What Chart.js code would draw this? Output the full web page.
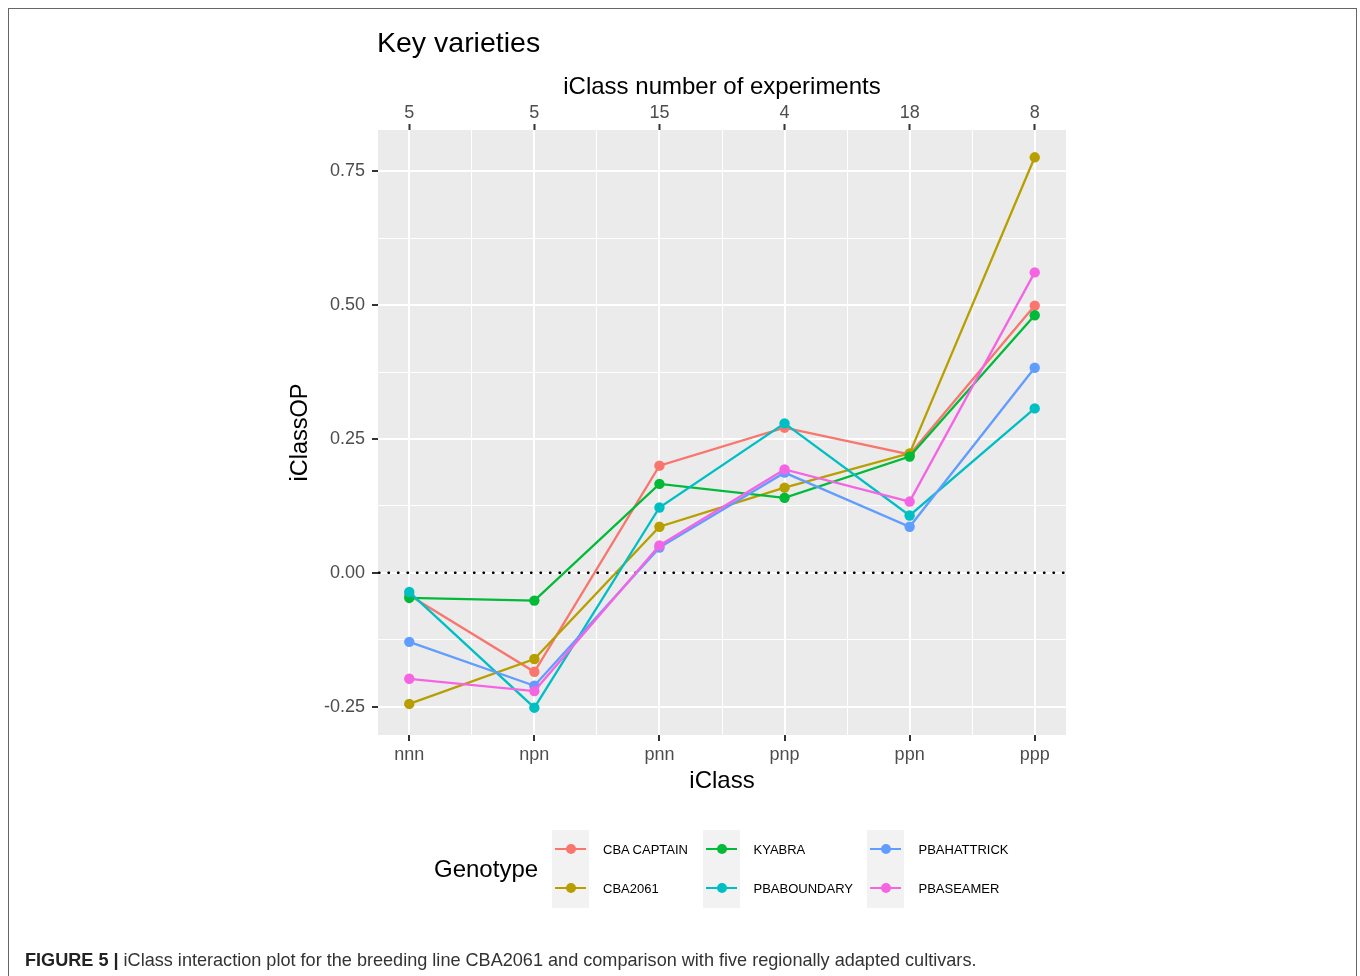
<!DOCTYPE html>
<html>
<head>
<meta charset="utf-8">
<script src="https://cdn.jsdelivr.net/npm/chart.js@4.4.1/dist/chart.umd.min.js"></script>
<style>
    body { margin: 0; background: #fff; font-family: 'Liberation Sans', Arial, sans-serif; }
    #wrap { position: relative; width: 1360px; height: 976px; overflow: hidden; }
    #frame { position: absolute; left: 8px; top: 8px; width: 1347px; height: 1000px; border: 1px solid #666; }
    #myChart { position: absolute; left: 0; top: 0; }
    #title { position: absolute; left: 377px; top: 27px; font-size: 28.5px; line-height: 30px; color: #000; }
    #legend { position: absolute; left: 434px; top: 830px; display: flex; align-items: center; }
    #legend .lgTitle { font-size: 24px; color: #000; width: 118px; }
    #legend .col { display: flex; margin-right: 14.5px; }
    #legend .keys { width: 37px; background: #F2F2F2; }
    #legend .key { position: relative; width: 37px; height: 39px; }
    #legend .key .ln { position: absolute; left: 3px; width: 31px; top: 18px; height: 2px; }
    #legend .key .dot { position: absolute; left: 14px; top: 14px; width: 10px; height: 10px; border-radius: 50%; }
    #legend .labels { margin-left: 14px; }
    #legend .lab { height: 39px; line-height: 39px; font-size: 13px; color: #000; white-space: nowrap; }
    #caption { position: absolute; left: 25px; top: 949px; font-size: 18.1px; line-height: 22px; color: #333; white-space: nowrap; }
    #caption b { color: #222; }
</style>
</head>
<body>
<div id="wrap">
    <div id="frame"></div>
    <canvas id="myChart" width="1360" height="976"></canvas>
    <div id="title">Key varieties</div>
    <div id="legend"></div>
    <div id="caption"><b>FIGURE 5 |</b> iClass interaction plot for the breeding line CBA2061 and comparison with five regionally adapted cultivars.</div>
</div>
<script>
const categories = ['nnn', 'npn', 'pnn', 'pnp', 'ppn', 'ppp'];
const experiments = [5, 5, 15, 4, 18, 8];
const yTicks = [-0.25, 0, 0.25, 0.5, 0.75];

const genotypes = ['CBA CAPTAIN', 'CBA2061', 'KYABRA', 'PBABOUNDARY', 'PBAHATTRICK', 'PBASEAMER'];
const colors = ['#F8766D', '#B79F00', '#00BA38', '#00BFC4', '#619CFF', '#F564E3'];

const cbaCaptain  = [-0.042, -0.185, 0.200, 0.271, 0.221, 0.499];
const cba2061     = [-0.245, -0.161, 0.086, 0.159, 0.223, 0.776];
const kyabra      = [-0.047, -0.052, 0.166, 0.140, 0.217, 0.481];
const pbaBoundary = [-0.036, -0.252, 0.122, 0.279, 0.107, 0.307];
const pbaHattrick = [-0.129, -0.211, 0.047, 0.187, 0.086, 0.383];
const pbaSeamer   = [-0.198, -0.221, 0.051, 0.193, 0.133, 0.561];

const series = [cbaCaptain, cba2061, kyabra, pbaBoundary, pbaHattrick, pbaSeamer];

// ggplot-like 5% expansion of the ranges
const xMin = -0.25, xMax = categories.length - 1 + 0.25;
const yMin = -0.303, yMax = 0.827;

const tickGrey = '#4D4D4D';
const isMajorY = v => Math.abs(v * 4 - Math.round(v * 4)) < 1e-9;

function withMinors(majors){
    const out = [];
    majors.forEach((v, i) => {
        out.push(v);
        if (i < majors.length - 1) out.push((v + majors[i + 1]) / 2);
    });
    return out;
}

const panelPlugin = {
    id: 'panelPlugin',
    beforeDraw(chart){
        const {ctx, chartArea: a} = chart;
        ctx.save();
        ctx.fillStyle = '#EBEBEB';
        ctx.fillRect(a.left, a.top, a.right - a.left, a.bottom - a.top);
        ctx.restore();
    },
    beforeDatasetsDraw(chart){
        // dotted reference line at 0
        const {ctx, chartArea: a} = chart;
        const y0 = chart.scales.y.getPixelForValue(0);
        ctx.save();
        ctx.strokeStyle = '#000';
        ctx.lineWidth = 2.4;
        ctx.lineCap = 'round';
        ctx.setLineDash([0.5, 9]);
        ctx.beginPath();
        ctx.moveTo(a.left + 1, y0);
        ctx.lineTo(a.right, y0);
        ctx.stroke();
        ctx.restore();
    }
};

Chart.defaults.font.family = "'Liberation Sans', Arial, sans-serif";
Chart.defaults.color = tickGrey;

const datasets = genotypes.map((g, i) => ({
    label: g,
    data: series[i].map((v, j) => ({x: j, y: v})),
    borderColor: colors[i],
    backgroundColor: colors[i],
    borderWidth: 2.3,
    pointRadius: 5.2,
    pointBorderWidth: 0,
    pointHoverRadius: 5.2,
    tension: 0,
    order: genotypes.length - i
}));

const gridStyle = (isMajor) => ({
    color: '#FFFFFF',
    lineWidth: ctx => isMajor(ctx.tick.value) ? 2 : 1,
    tickColor: ctx => isMajor(ctx.tick.value) ? '#333333' : 'rgba(0,0,0,0)',
    tickWidth: 2,
    tickLength: 6
});

const myChart = new Chart(document.getElementById('myChart'), {
    type: 'line',
    plugins: [panelPlugin],
    data: { datasets },
    options: {
        responsive: false,
        animation: false,
        layout: {
            padding: { left: 280, right: 294, top: 60, bottom: 176 }
        },
        plugins: {
            legend: { display: false },
            tooltip: { enabled: false },
            title: { display: false }
        },
        scales: {
            x: {
                type: 'linear',
                position: 'bottom',
                min: xMin,
                max: xMax,
                afterBuildTicks: axis => {
                    axis.ticks = withMinors(categories.map((c, i) => i)).map(v => ({value: v}));
                },
                afterFit: axis => { axis.height = 65; },
                ticks: {
                    autoSkip: false,
                    maxRotation: 0,
                    padding: 3,
                    font: { size: 18 },
                    color: tickGrey,
                    callback: v => Number.isInteger(v) ? categories[v] : ''
                },
                grid: gridStyle(v => Number.isInteger(v)),
                border: { display: false },
                title: {
                    display: true,
                    text: 'iClass',
                    color: '#000',
                    font: { size: 24 },
                    padding: { top: 0, bottom: 4 }
                }
            },
            x2: {
                type: 'linear',
                axis: 'x',
                position: 'top',
                min: xMin,
                max: xMax,
                afterBuildTicks: axis => {
                    axis.ticks = categories.map((c, i) => ({value: i}));
                },
                afterFit: axis => { axis.height = 70; },
                ticks: {
                    autoSkip: false,
                    maxRotation: 0,
                    padding: 0,
                    font: { size: 18 },
                    color: tickGrey,
                    callback: v => String(experiments[v])
                },
                grid: {
                    drawOnChartArea: false,
                    tickColor: '#333333',
                    tickWidth: 2,
                    tickLength: 6
                },
                border: { display: false },
                title: {
                    display: true,
                    text: 'iClass number of experiments',
                    color: '#000',
                    font: { size: 24 },
                    padding: { top: 13, bottom: 0 }
                }
            },
            y: {
                type: 'linear',
                min: yMin,
                max: yMax,
                afterBuildTicks: axis => {
                    axis.ticks = withMinors(yTicks).map(v => ({value: v}));
                },
                afterFit: axis => { axis.width = 98; },
                ticks: {
                    autoSkip: false,
                    padding: 7,
                    font: { size: 18 },
                    color: tickGrey,
                    callback: v => isMajorY(v) ? v.toFixed(2) : ''
                },
                grid: gridStyle(isMajorY),
                border: { display: false },
                title: {
                    display: true,
                    text: 'iClassOP',
                    color: '#000',
                    font: { size: 23.5 },
                    padding: { top: 6, bottom: 0 }
                }
            }
        }
    }
});

// legend in ggplot layout: 3 columns x 2 rows, filled by column
function buildLegend(chart){
    const box = document.getElementById('legend');
    const t = document.createElement('div');
    t.className = 'lgTitle';
    t.textContent = 'Genotype';
    box.appendChild(t);
    const ds = chart.data.datasets;
    for (let c = 0; c < ds.length; c += 2){
        const col = document.createElement('div');
        col.className = 'col';
        const keys = document.createElement('div');
        keys.className = 'keys';
        const labels = document.createElement('div');
        labels.className = 'labels';
        ds.slice(c, c + 2).forEach(d => {
            const k = document.createElement('div');
            k.className = 'key';
            k.innerHTML = '<div class="ln" style="background:' + d.borderColor + '"></div>' +
                          '<div class="dot" style="background:' + d.borderColor + '"></div>';
            keys.appendChild(k);
            const l = document.createElement('div');
            l.className = 'lab';
            l.textContent = d.label;
            labels.appendChild(l);
        });
        col.appendChild(keys);
        col.appendChild(labels);
        box.appendChild(col);
    }
}
buildLegend(myChart);
</script>
</body>
</html>
